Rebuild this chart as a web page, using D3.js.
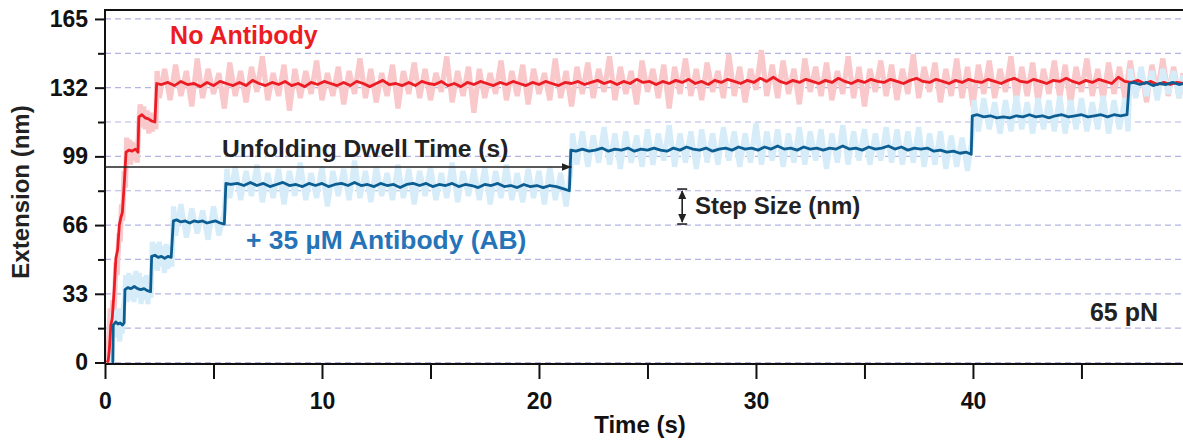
<!DOCTYPE html>
<html>
<head>
<meta charset="utf-8">
<script src="https://cdn.jsdelivr.net/npm/d3@7/dist/d3.min.js"></script>
<style>
  html, body { margin: 0; padding: 0; background: #fff; }
  svg { display: block; }
  text { font-family: "Liberation Sans", Arial, Helvetica, sans-serif; font-weight: bold; }
</style>
</head>
<body>
<svg id="chart" width="1183" height="440"></svg>
<script>
// ---------------- DATA ----------------
const xMajorTicks = [0, 10, 20, 30, 40];
const xMinorTicks = [5, 15, 25, 35, 45];
const yMajorTicks = [0, 33, 66, 99, 132, 165];
const yMinorTicks = [16.5, 49.5, 82.5, 115.5, 148.5];
const gridValues = [0, 16.5, 33, 49.5, 66, 82.5, 99, 115.5, 132, 148.5, 165];

// No Antibody – raw (light) trace [time s, extension nm]
const redRaw = [[0.05,0],[0.12,3],[0.18,12],[0.24,26],[0.3,16],[0.36,30],[0.42,24],[0.5,48],[0.56,42],[0.64,62],[0.7,58],[0.76,76],[0.82,68],[0.88,92],[0.94,84],[1.0,108],[1.06,96],[1.12,107],[1.18,95],[1.25,106],[1.32,97],[1.4,105],[1.48,96],[1.55,112],[1.62,124],[1.7,113],[1.78,123],[1.86,112],[1.94,121],[2.02,110],[2.1,120],[2.18,111],[2.26,119],[2.34,112],[2.4,140],[2.5,127],
[2.75,141],[3.0,126],[3.25,143],[3.5,128],[3.75,140],[4.0,123],[4.25,146],[4.5,127],[4.75,141],[5.0,129],[5.25,139],[5.5,122],[5.75,144],[6.0,128],[6.25,140],[6.5,125],[6.75,142],[7.0,130],[7.25,147],[7.5,126],[7.75,139],[8.0,128],[8.25,143],[8.5,121],[8.75,141],[9.0,127],[9.25,140],[9.5,129],[9.75,145],[10.0,126],[10.25,139],[10.5,128],[10.75,142],[11.0,124],[11.25,140],[11.5,129],[11.75,146],[12.0,127],[12.25,141],[12.5,125],[12.75,139],[13.0,128],[13.25,143],[13.5,122],[13.75,140],[14.0,129],[14.25,144],[14.5,127],[14.75,141],[15.0,126],[15.25,139],[15.5,130],[15.75,147],[16.0,125],[16.25,140],[16.5,128],[16.75,142],[17.0,120],[17.25,141],[17.5,127],[17.75,139],[18.0,129],[18.25,145],[18.5,126],[18.75,140],[19.0,128],[19.25,143],[19.5,124],[19.75,141],[20.0,129],[20.25,139],[20.5,126],[20.75,146],[21.0,127],[21.25,140],[21.5,123],[21.75,142],[22.0,129],
[22.25,144],[22.5,127],[22.75,141],[23.0,130],[23.25,147],[23.5,126],[23.75,142],[24.0,129],[24.25,140],[24.5,124],[24.75,145],[25.0,130],[25.25,141],[25.5,127],[25.75,143],[26.0,122],[26.25,142],[26.5,129],[26.75,146],[27.0,128],[27.25,141],[27.5,126],[27.75,144],[28.0,130],[28.25,140],[28.5,127],[28.75,148],[29.0,128],[29.25,142],[29.5,125],[29.75,141],[30.0,131],[30.25,150],[30.5,128],[30.75,143],[31.0,127],[31.25,145],[31.5,129],[31.75,141],[32.0,124],[32.25,146],[32.5,130],[32.75,142],[33.0,128],[33.25,144],[33.5,126],[33.75,140],[34.0,129],[34.25,147],[34.5,127],[34.75,142],[35.0,123],[35.25,141],[35.5,130],[35.75,145],[36.0,128],[36.25,143],[36.5,126],[36.75,141],[37.0,129],[37.25,148],[37.5,127],[37.75,142],[38.0,130],[38.25,144],[38.5,125],[38.75,141],[39.0,128],[39.25,146],[39.5,127],[39.75,142],[40.0,123],[40.25,143],[40.5,129],[40.75,145],[41.0,127],[41.25,141],[41.5,130],[41.75,147],[42.0,126],[42.25,142],[42.5,128],[42.75,144],[43.0,125],[43.25,141],[43.5,129],[43.75,145],[44.0,127],[44.25,143],[44.5,124],[44.75,142],[45.0,130],[45.25,146],[45.5,128],[45.75,141],[46.0,126],[46.25,144],[46.5,129],[46.75,142],[47.0,127],[47.25,145],[47.5,128],[47.75,141],[48.0,125],[48.25,143],[48.5,129],[48.75,146],[49.0,128],[49.25,142],[49.5,127],[49.68,139]];

// No Antibody – filtered (dark) trace
const redFiltered = [[0.1,0],[0.15,1],[0.2,6],[0.27,18],[0.33,21],[0.42,34],[0.5,50],[0.58,54],[0.66,66],[0.74,70],[0.8,72],[0.9,88],[0.97,101],[1.1,102],[1.25,101.5],[1.4,102.5],[1.52,101],[1.56,118],[1.7,119],[1.85,117.5],[2.0,117],[2.15,116],[2.3,115.5],[2.38,134],
[2.6,133.5],[2.9,134.5],[3.2,133],[3.5,135],[3.8,133.5],[4.1,134],[4.4,132.5],[4.7,134.5],[5.0,133],[5.3,135],[5.6,134],[5.9,133],[6.2,134.5],[6.5,133],[6.8,135.5],[7.1,134],[7.4,133],[7.7,134.5],[8.0,133.5],[8.3,135],[8.6,133],[8.9,134],[9.2,132.5],[9.5,134.5],[9.8,133.5],[10.1,135],[10.4,134],[10.7,133],[11.0,134.5],[11.3,133],[11.6,135],[11.9,134],[12.2,132.5],[12.5,134],[12.8,135.5],[13.1,133.5],[13.4,134],[13.7,133],[14.0,134.5],[14.3,133],[14.6,135],[14.9,134],[15.2,133.5],[15.5,135],[15.8,133],[16.1,134],[16.4,132.5],[16.7,134.5],[17.0,133.5],[17.3,135],[17.6,134],[17.9,133],[18.2,134.5],[18.5,133.5],[18.8,135],[19.1,134],[19.4,133],[19.7,134.5],[20.0,133.5],[20.3,135],[20.6,134],[20.9,133],[21.2,134.5],[21.5,134],[21.8,135],[22.1,133.5],[22.4,134.5],[22.7,135.5],[23.0,134],[23.3,135],[23.6,133.5],[23.9,135],[24.2,134],[24.5,136],[24.8,134.5],[25.1,135],[25.4,133.5],[25.7,135],[26.0,134],[26.3,135.5],[26.6,134.5],[26.9,136],[27.2,134],[27.5,135],[27.8,133.5],[28.1,135.5],[28.4,134.5],[28.7,136],[29.0,135],[29.3,134],[29.6,135.5],[29.9,134.5],[30.2,136.5],[30.5,135],[30.8,137],[31.1,135],[31.4,134],[31.7,135.5],[32.0,134.5],[32.3,136],[32.6,135],[32.9,134],[33.2,135.5],[33.5,134.5],[33.8,136.5],[34.1,135],[34.4,134],[34.7,135.5],[35.0,134.5],[35.3,136],[35.6,135],[35.9,134.5],[36.2,136],[36.5,135],[36.8,134],[37.1,135.5],[37.4,136.5],[37.7,135],[38.0,134.5],[38.3,136],[38.6,135],[38.9,134],[39.2,135.5],[39.5,134.5],[39.8,136],[40.1,135],[40.4,134.5],[40.7,136],[41.0,135],[41.3,134],[41.6,135.5],[41.9,136.5],[42.2,135],[42.5,134.5],[42.8,136],[43.1,135],[43.4,134],[43.7,135.5],[44.0,135],[44.3,136.5],[44.6,135],[44.9,134],[45.2,135.5],[45.5,134.5],[45.8,136],[46.1,135],[46.4,134],[46.7,137],[47.0,135],[47.3,134.5],[47.6,135.5],[47.9,134],[48.2,135],[48.5,133.5],[48.8,134.5],[49.1,133.5],[49.4,134.5],[49.68,134]];

// + 35 µM Antibody – raw (light) trace
const blueRaw = [[0.3,0],[0.34,8],[0.38,24],[0.44,13],[0.5,25],[0.56,12],[0.62,26],[0.68,10],[0.74,24],[0.8,14],[0.86,27],[0.9,30],[0.96,42],[1.02,29],[1.1,43],[1.18,30],[1.26,42],[1.34,29],[1.42,44],[1.5,31],[1.58,43],[1.66,28],[1.74,41],[1.82,30],[1.9,42],[1.98,28],[2.06,40],[2.12,31],[2.18,58],[2.26,45],[2.34,57],[2.42,44],[2.5,58],[2.58,46],[2.66,56],[2.74,43],[2.82,57],[2.9,45],[2.98,56],[3.08,46],[3.16,75],[3.25,61],
[3.5,76],[3.75,60],[4.0,74],[4.25,62],[4.5,73],[4.75,59],[5.0,75],[5.25,61],[5.5,72],
[5.62,93],[5.75,79],[6.0,94],[6.25,78],[6.5,92],[6.75,80],[7.0,95],[7.25,77],[7.5,91],[7.75,79],[8.0,93],[8.25,76],[8.5,92],[8.75,80],[9.0,96],[9.25,78],[9.5,91],[9.75,79],[10.0,94],[10.25,75],[10.5,92],[10.75,80],[11.0,93],[11.25,78],[11.5,97],[11.75,79],[12.0,92],[12.25,77],[12.5,94],[12.75,80],[13.0,91],[13.25,78],[13.5,95],[13.75,79],[14.0,93],[14.25,76],[14.5,92],[14.75,80],[15.0,94],[15.25,78],[15.5,91],[15.75,79],[16.0,96],[16.25,77],[16.5,92],[16.75,80],[17.0,93],[17.25,78],[17.5,94],[17.75,76],[18.0,92],[18.25,79],[18.5,95],[18.75,78],[19.0,91],[19.25,77],[19.5,93],[19.75,79],[20.0,92],[20.25,76],[20.5,94],[20.75,78],[21.0,91],[21.25,75],[21.45,90],
[21.55,110],[21.75,95],[22.0,111],[22.25,94],[22.5,109],[22.75,96],[23.0,113],[23.25,95],[23.5,110],[23.75,93],[24.0,111],[24.25,96],[24.5,109],[24.75,94],[25.0,112],[25.25,95],[25.5,110],[25.75,97],[26.0,114],[26.25,94],[26.5,110],[26.75,96],[27.0,111],[27.25,93],[27.5,112],[27.75,96],[28.0,110],[28.25,95],[28.5,113],[28.75,97],[29.0,111],[29.25,94],[29.5,110],[29.75,96],[30.0,115],[30.25,95],[30.5,111],[30.75,97],[31.0,112],[31.25,94],[31.5,110],[31.75,96],[32.0,113],[32.25,95],[32.5,111],[32.75,97],[33.0,112],[33.25,93],[33.5,110],[33.75,96],[34.0,114],[34.25,95],[34.5,111],[34.75,97],[35.0,112],[35.25,95],[35.5,110],[35.75,97],[36.0,113],[36.25,96],[36.5,112],[36.75,95],[37.0,111],[37.25,96],[37.5,113],[37.75,94],[38.0,110],[38.25,95],[38.5,111],[38.75,93],[39.0,109],[39.25,94],[39.5,108],[39.75,92],[39.95,107],
[40.05,126],[40.25,111],[40.5,127],[40.75,112],[41.0,125],[41.25,110],[41.5,126],[41.75,111],[42.0,128],[42.25,112],[42.5,125],[42.75,110],[43.0,127],[43.25,112],[43.5,126],[43.75,111],[44.0,128],[44.25,110],[44.5,126],[44.75,112],[45.0,127],[45.25,111],[45.5,125],[45.75,112],[46.0,128],[46.25,110],[46.5,126],[46.75,112],[47.0,127],[47.15,111],
[47.25,141],[47.5,127],[47.75,142],[48.0,128],[48.25,140],[48.5,126],[48.75,141],[49.0,129],[49.25,140],[49.5,127],[49.68,138]];

// + 35 µM Antibody – filtered (dark) trace
const blueFiltered = [[0.3,0],[0.36,0],[0.38,18],[0.5,19.5],[0.6,18.5],[0.7,19],[0.8,18],[0.88,19],[0.92,35],[1.05,36],[1.2,35.5],[1.35,36.5],[1.5,35.5],[1.65,35],[1.8,35.5],[1.95,34.5],[2.1,34],[2.15,51],[2.3,51.5],[2.45,50.5],[2.6,51],[2.75,50],[2.9,51],[3.05,50.5],[3.15,68],[3.3,68.5],[3.5,67.5],[3.7,68],[3.9,67],[4.1,68],[4.3,67.5],[4.5,68],[4.7,67],[4.9,67.5],[5.1,68],[5.3,67],[5.5,66.5],
[5.57,86],[5.8,85.5],[6.1,86],[6.4,85],[6.7,86.5],[7.0,85],[7.3,86],[7.6,84.5],[7.9,85.5],[8.2,86.5],[8.5,85],[8.8,85.5],[9.1,84.5],[9.4,86],[9.7,85],[10.0,86],[10.3,84.5],[10.6,85.5],[10.9,86],[11.2,85],[11.5,86.5],[11.8,85],[12.1,85.5],[12.4,84.5],[12.7,86],[13.0,85],[13.3,85.5],[13.6,84],[13.9,85.5],[14.2,86],[14.5,85],[14.8,86],[15.1,84.5],[15.4,85.5],[15.7,85],[16.0,86],[16.3,84.5],[16.6,85.5],[16.9,85],[17.2,84],[17.5,85.5],[17.8,85],[18.1,86],[18.4,84.5],[18.7,85],[19.0,84],[19.3,85.5],[19.6,84.5],[19.9,85],[20.2,84],[20.5,85],[20.8,84.5],[21.1,83.5],[21.4,82.5],
[21.47,102],[21.7,101.5],[22.0,102.5],[22.3,101.5],[22.6,102],[22.9,103],[23.2,101.5],[23.5,102.5],[23.8,102],[24.1,103],[24.4,101.5],[24.7,102.5],[25.0,102],[25.3,103],[25.6,102],[25.9,101.5],[26.2,103],[26.5,102],[26.8,103.5],[27.1,102.5],[27.4,102],[27.7,103],[28.0,101.5],[28.3,102.5],[28.6,103],[28.9,102],[29.2,103.5],[29.5,102.5],[29.8,103],[30.1,102],[30.4,103.5],[30.7,102.5],[31.0,104],[31.3,102.5],[31.6,103],[31.9,102],[32.2,103.5],[32.5,102.5],[32.8,103],[33.1,102],[33.4,103],[33.7,102.5],[34.0,104],[34.3,102.5],[34.6,103],[34.9,102],[35.2,103.5],[35.5,102.5],[35.8,103],[36.1,104],[36.4,102.5],[36.7,103.5],[37.0,102],[37.3,103],[37.6,102.5],[37.9,103],[38.2,101.5],[38.5,102],[38.8,101],[39.1,101.5],[39.4,100.5],[39.7,101],[39.92,100],
[39.97,118.5],[40.2,119],[40.5,118],[40.8,118.5],[41.1,117.5],[41.4,118],[41.7,117.5],[42.0,118.5],[42.3,118],[42.6,119],[42.9,118],[43.2,118.5],[43.5,117.5],[43.8,118.5],[44.1,119],[44.4,118],[44.7,118.5],[45.0,119],[45.3,118],[45.6,118.5],[45.9,119],[46.2,118],[46.5,119],[46.8,118.5],[47.1,119],
[47.2,134],[47.4,134.5],[47.7,133.5],[48.0,134.5],[48.3,133],[48.6,134],[48.9,133.5],[49.2,134.5],[49.5,133.5],[49.68,134]];

// Annotations (data units)
const dwellArrow = { t0: 0, t1: 21.5, v: 93.9 };
const stepArrow = { t: 26.6, v0: 66.5, v1: 83.3 };

// ---------------- CHART ----------------
const W = 1183, H = 440;
const svg = d3.select("#chart");
const x = d3.scaleLinear().domain([0, 49.68]).range([105, 1183]);
const y = d3.scaleLinear().domain([-0.72, 169.3]).range([364, 10]);

const ink = "#111";

// grid
svg.append("g").selectAll("line").data(gridValues).join("line")
  .attr("x1", x(0)).attr("x2", W)
  .attr("y1", d => y(d)).attr("y2", d => y(d))
  .attr("stroke", "#b4b4e2").attr("stroke-width", 1.2)
  .attr("stroke-dasharray", "6,4");

// traces
const line = d3.line().x(d => x(d[0])).y(d => y(d[1]));
const plot = svg.append("g");
plot.append("path").datum(redRaw).attr("d", line)
  .attr("fill", "none").attr("stroke", "#f9c8cb").attr("stroke-width", 5.2).attr("stroke-linejoin", "bevel");
plot.append("path").datum(blueRaw).attr("d", line)
  .attr("fill", "none").attr("stroke", "#d6edf9").attr("stroke-width", 5.2).attr("stroke-linejoin", "bevel");
plot.append("path").datum(redFiltered).attr("d", line)
  .attr("fill", "none").attr("stroke", "#ec1c24").attr("stroke-width", 2.8).attr("stroke-linejoin", "round");
plot.append("path").datum(blueFiltered).attr("d", line)
  .attr("fill", "none").attr("stroke", "#0b5d92").attr("stroke-width", 2.8).attr("stroke-linejoin", "round");

// frame lines
svg.append("line").attr("x1", x(0)).attr("x2", W).attr("y1", 10).attr("y2", 10)
  .attr("stroke", ink).attr("stroke-width", 2);
svg.append("line").attr("x1", x(0)).attr("x2", W).attr("y1", 364).attr("y2", 364)
  .attr("stroke", ink).attr("stroke-width", 2);
svg.append("line").attr("x1", x(0)).attr("x2", x(0)).attr("y1", 9).attr("y2", 364)
  .attr("stroke", ink).attr("stroke-width", 2);

// axes
function styleAxis(g, fs) {
  g.select(".domain").remove();
  g.selectAll(".tick line").attr("stroke", ink).attr("stroke-width", 2);
  g.selectAll(".tick text").attr("fill", ink).style("font-size", fs + "px")
    .style("font-family", '"Liberation Sans", Arial, sans-serif').style("font-weight", "bold");
}
const yAxisMajor = svg.append("g").attr("transform", `translate(${x(0)},0)`)
  .call(d3.axisLeft(y).tickValues(yMajorTicks).tickSize(10).tickPadding(7).tickFormat(d3.format("d")));
styleAxis(yAxisMajor, 23);
const yAxisMinor = svg.append("g").attr("transform", `translate(${x(0)},0)`)
  .call(d3.axisLeft(y).tickValues(yMinorTicks).tickSize(7).tickFormat(""));
styleAxis(yAxisMinor, 23);

const xAxisMajor = svg.append("g").attr("transform", `translate(0,364)`)
  .call(d3.axisBottom(x).tickValues(xMajorTicks).tickSize(15).tickPadding(14).tickFormat(d3.format("d")));
styleAxis(xAxisMajor, 23);
const xAxisMinor = svg.append("g").attr("transform", `translate(0,364)`)
  .call(d3.axisBottom(x).tickValues(xMinorTicks).tickSize(15).tickFormat(""));
styleAxis(xAxisMinor, 23);

// axis titles
svg.append("text").attr("x", 640).attr("y", 433).attr("text-anchor", "middle")
  .attr("fill", ink).style("font-size", "24px").text("Time (s)");
svg.append("text").attr("transform", "translate(29,192) rotate(-90)").attr("text-anchor", "middle")
  .attr("fill", "#222").style("font-size", "24px").text("Extension (nm)");

// annotations
const defs = svg.append("defs");
defs.append("marker").attr("id", "arrowR").attr("viewBox", "0 0 10 10")
  .attr("refX", 10).attr("refY", 5).attr("markerWidth", 10).attr("markerHeight", 10)
  .attr("markerUnits", "userSpaceOnUse").attr("orient", "auto")
  .append("path").attr("d", "M0,1 L10,5 L0,9 Z").attr("fill", "#222");

svg.append("line")
  .attr("x1", x(dwellArrow.t0)).attr("x2", x(dwellArrow.t1))
  .attr("y1", y(dwellArrow.v)).attr("y2", y(dwellArrow.v))
  .attr("stroke", "#222").attr("stroke-width", 1.6).attr("marker-end", "url(#arrowR)");

// step size double arrow
const sx = x(stepArrow.t), sy0 = y(stepArrow.v0), sy1 = y(stepArrow.v1);
const sg = svg.append("g").attr("stroke", "#222").attr("fill", "#222");
sg.append("line").attr("x1", sx).attr("x2", sx).attr("y1", sy1 + 2).attr("y2", sy0 - 2).attr("stroke-width", 1.6);
sg.append("line").attr("x1", sx - 5).attr("x2", sx + 5).attr("y1", sy1).attr("y2", sy1).attr("stroke-width", 1.6);
sg.append("line").attr("x1", sx - 5).attr("x2", sx + 5).attr("y1", sy0).attr("y2", sy0).attr("stroke-width", 1.6);
sg.append("path").attr("stroke", "none")
  .attr("d", `M${sx},${sy1 + 1} L${sx - 4},${sy1 + 10} L${sx + 4},${sy1 + 10} Z`);
sg.append("path").attr("stroke", "none")
  .attr("d", `M${sx},${sy0 - 1} L${sx - 4},${sy0 - 10} L${sx + 4},${sy0 - 10} Z`);

const labels = [
  { text: "No Antibody", t: 3.0, v: 153, size: 25, color: "#ec1c24" },
  { text: "Unfolding Dwell Time (s)", t: 5.39, v: 98.7, size: 24.6, color: "#222" },
  { text: "Step Size (nm)", t: 27.19, v: 71.3, size: 24, color: "#222" },
  { text: "+ 35 \u00B5M Antibody (AB)", t: 6.5, v: 54.5, size: 26.4, color: "#2674b8" },
  { text: "65 pN", t: 45.39, v: 19.9, size: 25, color: "#222" }
];
svg.append("g").selectAll("text").data(labels).join("text")
  .attr("x", d => x(d.t)).attr("y", d => y(d.v))
  .attr("fill", d => d.color).style("font-size", d => d.size + "px")
  .text(d => d.text);
</script>
</body>
</html>
